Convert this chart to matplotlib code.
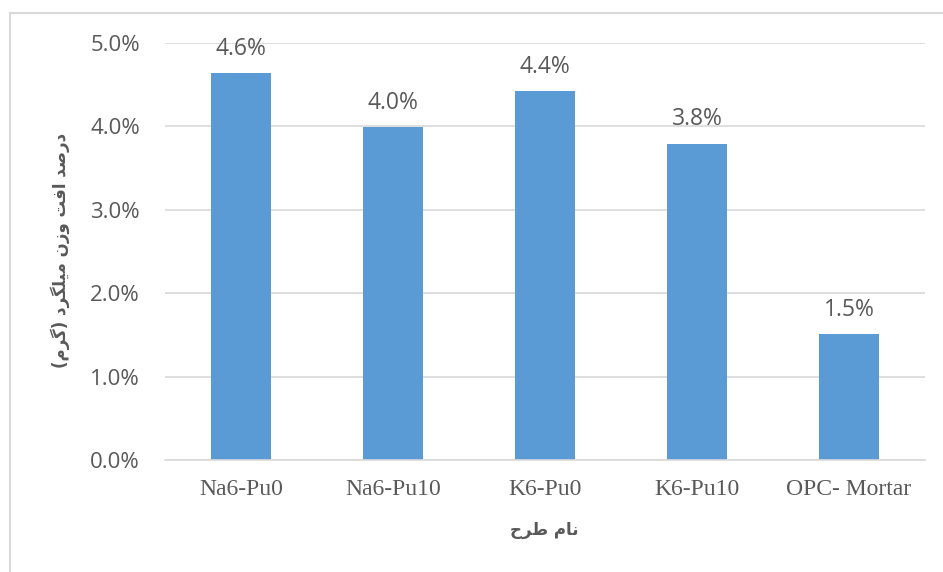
import numpy as np
import matplotlib.pyplot as plt
from matplotlib.lines import Line2D

# mix names and measured weight loss of the rebar (%)
mixes = ['Na6-Pu0', 'Na6-Pu10', 'K6-Pu0', 'K6-Pu10', 'OPC- Mortar']
weight_loss = [4.64, 3.99, 4.42, 3.79, 1.51]
y_ticks = [0, 1, 2, 3, 4, 5]

x_title = 'نام طرح'
y_title = 'درصد افت وزن میلگرد (گرم)'

BAR = '#5B9BD5'
GRID = '#D9D9D9'
TXT = '#595959'

# Arabic presentation forms: (isolated, final, initial, medial); None -> no forward joining
FORMS = {
    'ا': ('\uFE8D', '\uFE8E', None, None),
    'د': ('\uFEA9', '\uFEAA', None, None),
    'ر': ('\uFEAD', '\uFEAE', None, None),
    'ز': ('\uFEAF', '\uFEB0', None, None),
    'و': ('\uFEED', '\uFEEE', None, None),
    'ص': ('\uFEB9', '\uFEBA', '\uFEBB', '\uFEBC'),
    'ف': ('\uFED1', '\uFED2', '\uFED3', '\uFED4'),
    'ت': ('\uFE95', '\uFE96', '\uFE97', '\uFE98'),
    'ن': ('\uFEE5', '\uFEE6', '\uFEE7', '\uFEE8'),
    'م': ('\uFEE1', '\uFEE2', '\uFEE3', '\uFEE4'),
    'ل': ('\uFEDD', '\uFEDE', '\uFEDF', '\uFEE0'),
    'ط': ('\uFEC1', '\uFEC2', '\uFEC3', '\uFEC4'),
    'ح': ('\uFEA1', '\uFEA2', '\uFEA3', '\uFEA4'),
    'ی': ('\uFBFC', '\uFBFD', '\uFBFE', '\uFBFF'),
    'گ': ('\uFB92', '\uFB93', '\uFB94', '\uFB95'),
}
MIRROR = {'(': ')', ')': '('}


def shape_rtl(text):
    out = []
    for i, ch in enumerate(text):
        if ch not in FORMS:
            out.append(MIRROR.get(ch, ch))
            continue
        prev = text[i - 1] if i > 0 else ''
        nxt = text[i + 1] if i + 1 < len(text) else ''
        join_prev = prev in FORMS and FORMS[prev][2] is not None
        join_next = FORMS[ch][2] is not None and nxt in FORMS
        iso, fin, ini, med = FORMS[ch]
        if join_prev and join_next:
            out.append(med)
        elif join_prev:
            out.append(fin)
        elif join_next:
            out.append(ini)
        else:
            out.append(iso)
    return ''.join(reversed(out))


fig = plt.figure(figsize=(9.43, 5.72), dpi=100)
ax = fig.add_axes([165 / 943, 112 / 572, 760 / 943, 417 / 572])

x = np.arange(len(mixes))
bars = ax.bar(x, weight_loss, width=0.4, color=BAR, zorder=3)

for b, v in zip(bars, weight_loss):
    ax.annotate(f'{v:.1f}%', (b.get_x() + b.get_width() / 2, v),
                xytext=(0, 9), textcoords='offset points',
                ha='center', va='bottom', fontsize=16.5,
                family='Open Sans', color=TXT)

ax.set_xlim(-0.5, len(mixes) - 0.5)
ax.set_ylim(0, 5)
ax.set_yticks(y_ticks)
ax.set_yticklabels([f'{t:.1f}%' for t in y_ticks], family='Open Sans',
                   fontsize=16, color=TXT)
ax.set_xticks(x)
ax.set_xticklabels(mixes, family='Liberation Serif', fontsize=17, color=TXT)
ax.tick_params(axis='y', length=0, pad=18)
ax.tick_params(axis='x', length=0, pad=14)

ax.grid(axis='y', color=GRID, linewidth=1.2, zorder=0)
for s in ['top', 'right', 'left']:
    ax.spines[s].set_visible(False)
ax.spines['bottom'].set_color(GRID)
ax.spines['bottom'].set_linewidth(1.2)
ax.spines['bottom'].set_zorder(4)

fig.text(544 / 943, 1 - 530 / 572, shape_rtl(x_title), family='DejaVu Sans',
         weight='bold', fontsize=12, color=TXT, ha='center', va='center')
fig.text(60 / 943, 1 - 250 / 572, shape_rtl(y_title), family='DejaVu Sans',
         weight='bold', fontsize=12, color=TXT, ha='center', va='center',
         rotation=90)

# chart frame (left and top edges only)
fig.add_artist(Line2D([10 / 943, 10 / 943], [0, 1 - 13 / 572],
                      transform=fig.transFigure, color=GRID, linewidth=1.5))
fig.add_artist(Line2D([10 / 943, 1], [1 - 13 / 572, 1 - 13 / 572],
                      transform=fig.transFigure, color=GRID, linewidth=1.5))

fig.savefig('out.png', dpi=100)
